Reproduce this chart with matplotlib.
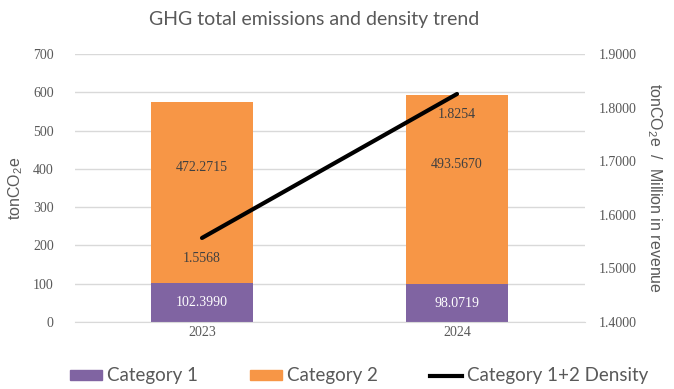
import matplotlib
matplotlib.use("Agg")
import matplotlib.pyplot as plt
from matplotlib.patches import Patch
from matplotlib.lines import Line2D

years = ["2023", "2024"]
cat1 = [102.3990, 98.0719]
cat2 = [472.2715, 493.5670]
density = [1.5568, 1.8254]
left_ticks = [0, 100, 200, 300, 400, 500, 600, 700]
right_ticks = [1.4, 1.5, 1.6, 1.7, 1.8, 1.9]

plt.rcParams['mathtext.fontset'] = 'custom'
plt.rcParams['mathtext.rm'] = 'Liberation Sans'
plt.rcParams['mathtext.it'] = 'Liberation Sans:italic'

purple = "#8064A2"
orange = "#F79646"
grid_c = "#D9D9D9"
txt_c = "#595959"

fig = plt.figure(figsize=(6.74, 3.89), dpi=100)
ax = fig.add_axes([74.5/674, 1 - 322/389, 510/674, 268/389])
ax2 = ax.twinx()

x = list(range(len(years)))
ax.bar(x, cat1, width=0.4, color=purple, zorder=2)
ax.bar(x, cat2, width=0.4, bottom=cat1, color=orange, zorder=2)

ax.set_xlim(-0.5, 1.5)
ax.set_ylim(0, 700)
ax.set_yticks(left_ticks)
ax.set_yticklabels([str(t) for t in left_ticks], family="Liberation Serif", fontsize=10, color=txt_c)
ax.set_xticks(x)
ax.set_xticklabels(years, family="Liberation Serif", fontsize=10, color=txt_c)
ax.yaxis.grid(True, color=grid_c, linewidth=1, zorder=0)
ax.set_axisbelow(True)
for s in ["top", "left", "right"]:
    ax.spines[s].set_visible(False)
ax.spines["bottom"].set_color(grid_c)
ax.tick_params(axis="both", length=0)
ax.tick_params(axis="y", pad=15)
ax.tick_params(axis="x", pad=3)
ax.set_ylabel("tonCO$_2$e", family="Liberation Sans", fontsize=11.5, color=txt_c, labelpad=6)

ax2.plot(x, density, color="black", linewidth=3, solid_capstyle="round", zorder=3)
ax2.set_ylim(1.4, 1.9)
ax2.set_yticks(right_ticks)
ax2.set_yticklabels([f"{t:.4f}" for t in right_ticks], family="Liberation Serif", fontsize=10, color=txt_c)
ax2.tick_params(axis="y", length=0, pad=10)
for s in ["top", "left", "right", "bottom"]:
    ax2.spines[s].set_visible(False)
ax2.set_ylabel("tonCO$_2$e  /  Million in revenue", family="Liberation Sans", fontsize=11.5,
               color=txt_c, rotation=270, labelpad=20)

for i in x:
    ax.annotate(f"{cat1[i]:.4f}", (i, cat1[i] / 2), ha="center", va="center",
                family="Liberation Serif", fontsize=10, color="white", zorder=4)
    ax.annotate(f"{cat2[i]:.4f}", (i, cat1[i] + cat2[i] / 2), xytext=(0, 18),
                textcoords="offset points", ha="center", va="center",
                family="Liberation Serif", fontsize=10, color="#404040", zorder=4)
    ax2.annotate(f"{density[i]:.4f}", (i, density[i]), xytext=(0, -15),
                 textcoords="offset points", ha="center", va="center",
                 family="Liberation Serif", fontsize=10, color="#404040", zorder=4)

fig.text(314/674, 1 - 19/389, "GHG total emissions and density trend", ha="center", va="center",
         family="Lato", fontsize=14, color=txt_c)

handles = [Patch(color=purple), Patch(color=orange), Line2D([0], [0], color="black", linewidth=3)]
labels = ["Category 1", "Category 2", "Category 1+2 Density"]
fig.legend(handles, labels, loc="center", bbox_to_anchor=(359/674, 1 - 376/389), ncol=3,
           frameon=False, prop={"family": "Lato", "size": 13.5}, labelcolor=txt_c,
           handlelength=1.7, handleheight=0.5, handletextpad=0.25, columnspacing=2.8,
           borderpad=0, borderaxespad=0)

fig.savefig("out.png", dpi=100)
